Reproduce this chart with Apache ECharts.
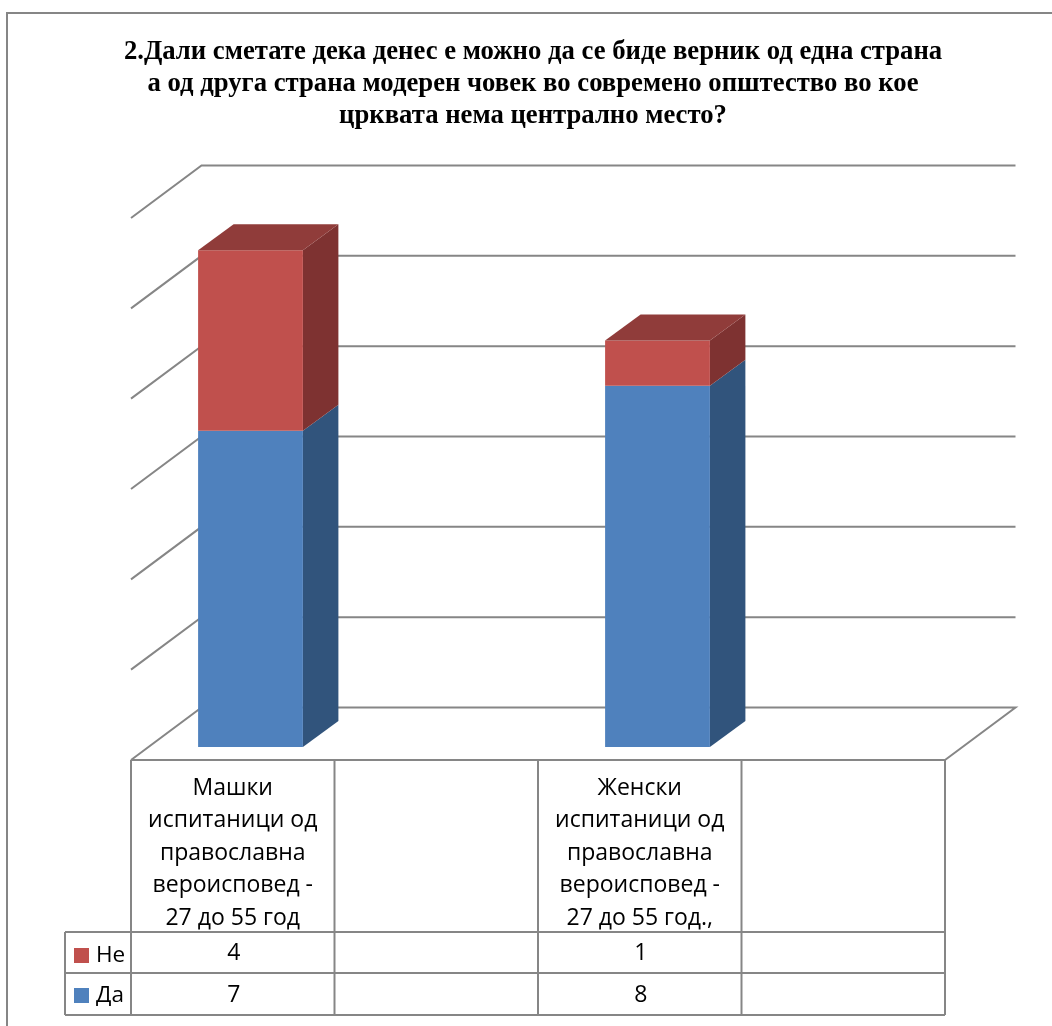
<!DOCTYPE html>
<html><head><meta charset="utf-8">
<style>html,body{margin:0;padding:0;background:#fff}#c{width:1052px;height:1026px}</style>
<script src="https://cdn.jsdelivr.net/npm/echarts@6/dist/echarts.min.js"></script>
</head><body><div id="c"></div>
<script>
const categories = ['Машки\nиспитаници од\nправославна\nвероисповед -\n27 до 55 год', '', 'Женски\nиспитаници од\nправославна\nвероисповед -\n27 до 55 год.,', ''];
const valuesDa = [7, null, 8, null];
const valuesNe = [4, null, 1, null];
const axisTicks = [0, 2, 4, 6, 8, 10, 12];
const titleText = '2.Дали сметате дека денес е можно да се биде верник од една страна\nа од друга страна модерен човек во современо општество во кое\nцрквата нема централно место?';

const GRID = {left: 131, right: 107, top: 218, bottom: 266};
const D = {x: 70.5, y: -52.5};
const LINE = '#868686';
const stroke = {stroke: LINE, lineWidth: 2, fill: null};

function wallItem(params, api) {
  const v = api.value(0);
  const a = api.coord([0, v]);
  const x0 = params.coordSys.x, x1 = x0 + params.coordSys.width;
  const children = [];
  if (v === 0) {
    children.push({type: 'polyline', shape: {points: [[x0, a[1]], [x0 + D.x, a[1] + D.y], [x1 + D.x, a[1] + D.y], [x1, a[1]]]}, style: stroke});
  } else {
    children.push({type: 'polyline', shape: {points: [[x0, a[1]], [x0 + D.x, a[1] + D.y], [x1 + D.x, a[1] + D.y]]}, style: stroke});
  }
  return {type: 'group', children};
}

function barItem(colors) {
  return function (params, api) {
    const cat = api.value(0), lo = api.value(1), hi = api.value(2);
    if (isNaN(hi) || api.value(3) == null || isNaN(api.value(3))) return null;
    const band = api.size([1, 0])[0];
    const cx = api.coord([cat, 0])[0];
    const w = band * 0.515;
    const fx = cx - w / 2 + 71 * 0.25, fy = -52 * 0.25;
    const dx = 71 * 0.5, dy = -52 * 0.5;
    const yLo = api.coord([cat, lo])[1] + fy, yHi = api.coord([cat, hi])[1] + fy;
    const kids = [
      {type: 'polygon', shape: {points: [[fx + w, yLo], [fx + w + dx, yLo + dy], [fx + w + dx, yHi + dy], [fx + w, yHi]]}, style: {fill: colors[1]}},
      {type: 'rect', shape: {x: fx, y: yHi, width: w, height: yLo - yHi}, style: {fill: colors[0]}}
    ];
    if (colors[2]) kids.push({type: 'polygon', shape: {points: [[fx, yHi], [fx + dx, yHi + dy], [fx + w + dx, yHi + dy], [fx + w, yHi]]}, style: {fill: colors[2]}});
    return {type: 'group', children: kids};
  };
}

const dataDa = categories.map((c, i) => [i, 0, valuesDa[i] ?? 0, valuesDa[i]]);
const dataNe = categories.map((c, i) => [i, valuesDa[i] ?? 0, (valuesDa[i] ?? 0) + (valuesNe[i] ?? 0), valuesNe[i]]);

const T = {headTop: 760, row1: 932, row2: 973, bottom: 1015, keyLeft: 65};
const FONT = '"Open Sans","Noto Sans",sans-serif';
const rowFont = {fontFamily: FONT, fontSize: 23, fill: '#000'};

function tableItem(params, api) {
  const i = params.dataIndex;
  const cx = api.coord([i, 0])[0];
  const band = api.size([1, 0])[0];
  const kids = [
    {type: 'line', shape: {x1: cx + band / 2, y1: T.headTop, x2: cx + band / 2, y2: T.bottom}, style: {stroke: LINE, lineWidth: 2}}
  ];
  if (i === 0) kids.push({type: 'line', shape: {x1: cx - band / 2, y1: T.headTop, x2: cx - band / 2, y2: T.bottom}, style: {stroke: LINE, lineWidth: 2}});
  const ne = valuesNe[i], da = valuesDa[i];
  if (ne != null) kids.push({type: 'text', style: Object.assign({text: String(ne), x: cx + 1, y: (T.row1 + T.row2) / 2 + 1, align: 'center', verticalAlign: 'middle'}, rowFont)});
  if (da != null) kids.push({type: 'text', style: Object.assign({text: String(da), x: cx + 1, y: (T.row2 + T.bottom) / 2 + 1, align: 'center', verticalAlign: 'middle'}, rowFont)});
  return {type: 'group', children: kids};
}

const chart = echarts.init(document.getElementById('c'), null, {renderer: 'canvas'});
chart.setOption({
  animation: false,
  backgroundColor: '#fff',
  title: {
    text: titleText, left: 528, top: 31, textAlign: 'center',
    textStyle: {fontFamily: '"Liberation Serif",serif', fontWeight: 'bold', fontSize: 26.7, lineHeight: 32, color: '#000'}
  },
  legend: {
    show: true, orient: 'vertical', left: 74, top: 944, padding: 0, itemWidth: 15, itemHeight: 15, itemGap: 17,
    icon: 'rect', data: ['Не', 'Да'],
    textStyle: {fontFamily: FONT, fontSize: 22.5, lineHeight: 15, height: 15, color: '#000', padding: [0, 0, 0, 2]}
  },
  grid: GRID,
  xAxis: {
    type: 'category', data: categories, boundaryGap: true,
    axisLine: {show: false}, axisTick: {show: false}, splitLine: {show: false},
    axisLabel: {interval: 0, margin: 12, fontFamily: FONT, fontSize: 23, lineHeight: 32.5, color: '#000'}
  },
  yAxis: {type: 'value', min: 0, max: 12, interval: 2, axisLabel: {show: false}, axisLine: {show: false}, axisTick: {show: false}, splitLine: {show: false}},
  series: [
    {type: 'custom', name: 'wall', data: axisTicks.map(v => [v]), renderItem: wallItem, encode: {y: 0}, z: 1, silent: true},
    {type: 'custom', name: 'Да', data: dataDa, renderItem: barItem(['#4f81bd', '#31547c', null]), encode: {x: 0, y: 2}, itemStyle: {color: '#4f81bd'}, z: 2},
    {type: 'custom', name: 'Не', data: dataNe, renderItem: barItem(['#c0504d', '#7e3231', '#903c3a']), encode: {x: 0, y: 2}, itemStyle: {color: '#c0504d'}, z: 3},
    {type: 'custom', name: 'table', data: categories.map((c, i) => [i]), renderItem: tableItem, encode: {x: 0}, z: 4, silent: true}
  ],
  graphic: [
    {type: 'polyline', shape: {points: [[7, 1026], [7, 13], [1052, 13]]}, style: {stroke: LINE, lineWidth: 2, fill: null}, z: 0},
    {type: 'line', shape: {x1: 131, y1: T.headTop, x2: 945, y2: T.headTop}, style: {stroke: LINE, lineWidth: 2}, z: 5},
    {type: 'polyline', shape: {points: [[T.keyLeft, T.row1], [945, T.row1]]}, style: {stroke: LINE, lineWidth: 2, fill: null}, z: 5},
    {type: 'line', shape: {x1: T.keyLeft, y1: T.row2, x2: 945, y2: T.row2}, style: {stroke: LINE, lineWidth: 2}, z: 5},
    {type: 'line', shape: {x1: T.keyLeft, y1: T.bottom, x2: 945, y2: T.bottom}, style: {stroke: LINE, lineWidth: 2}, z: 5},
    {type: 'line', shape: {x1: T.keyLeft, y1: T.row1, x2: T.keyLeft, y2: T.bottom}, style: {stroke: LINE, lineWidth: 2}, z: 5}
  ]
});
</script></body></html>
